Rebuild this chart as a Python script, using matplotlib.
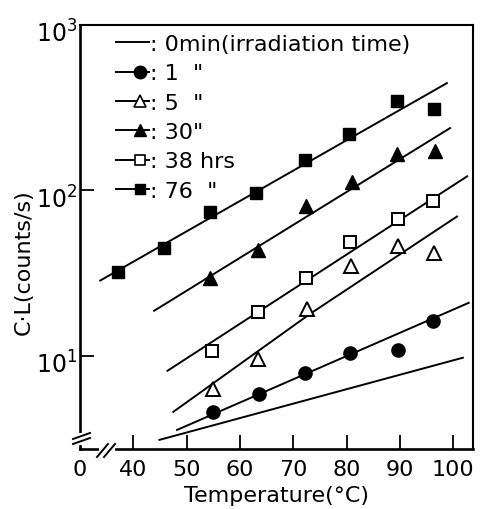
import numpy as np
import matplotlib
matplotlib.use("Agg")
import matplotlib.pyplot as plt
import matplotlib.transforms as mtransforms
from matplotlib.lines import Line2D
from matplotlib.legend_handler import HandlerLine2D

# ---------------- data ----------------
# measured points: temperature (deg C) and chemiluminescence (counts/s)
t_1min = [55.0, 63.6, 72.2, 80.6, 89.6, 96.2]
c_1min = [4.58, 5.89, 7.89, 10.4, 10.9, 16.3]

t_5min = [55.0, 63.4, 72.6, 80.8, 89.6, 96.4]
c_5min = [6.3, 9.6, 19.3, 35.1, 46.4, 42.1]

t_30min = [54.4, 63.4, 72.4, 81.0, 89.4, 96.5]
c_30min = [29.7, 43.3, 80.0, 113.0, 167.0, 172.0]

t_38h = [54.8, 63.4, 72.4, 80.6, 89.6, 96.2]
c_38h = [10.7, 18.5, 29.7, 48.4, 66.7, 85.8]

t_76h = [37.2, 45.8, 54.4, 63.0, 72.2, 80.5, 89.4, 96.4]
c_76h = [32.3, 45.1, 73.6, 95.9, 152.0, 218.0, 346.0, 310.0]

# drawn fit lines (temperature, counts/s)
fit_t_0min = [44.9, 101.8]
fit_c_0min = [3.10, 9.73]
fit_t_1min = [48.2, 102.9]
fit_c_1min = [3.56, 20.9]
fit_t_5min = [47.5, 73.2, 100.7]
fit_c_5min = [4.58, 17.97, 69.5]
fit_t_30min = [43.9, 99.4]
fit_c_30min = [18.7, 238.0]
fit_t_38h = [46.4, 102.6]
fit_c_38h = [8.11, 121.6]
fit_t_76h = [33.8, 98.8]
fit_c_76h = [28.5, 445.0]

legend_labels = [": 0min(irradiation time)", ": 1  \"", ": 5  \"",
                 ": 30\"", ": 38 hrs", ": 76  \""]
x_ticks = [30, 40, 50, 60, 70, 80, 90, 100]
x_tick_labels = ["0", "40", "50", "60", "70", "80", "90", "100"]
y_ticks = [10, 100, 1000]
y_tick_labels = [r"$\mathregular{10^{1}}$", r"$\mathregular{10^{2}}$", r"$\mathregular{10^{3}}$"]

# ---------------- style ----------------
plt.rcParams['font.family'] = ['DejaVu Sans']
plt.rcParams['mathtext.fontset'] = 'dejavusans'

fig = plt.figure(figsize=(4.9, 5.1), dpi=100)
W, H = 490, 510
L, R, T, B = 80, 473, 26, 450
ax = fig.add_axes([L / W, 1 - B / H, (R - L) / W, (B - T) / H])

lw = 1.4
k = 'black'
ax.plot(fit_t_0min, fit_c_0min, color=k, lw=lw)
ax.plot(fit_t_1min, fit_c_1min, color=k, lw=lw)
ax.plot(fit_t_5min, fit_c_5min, color=k, lw=lw)
ax.plot(fit_t_30min, fit_c_30min, color=k, lw=lw)
ax.plot(fit_t_38h, fit_c_38h, color=k, lw=lw)
ax.plot(fit_t_76h, fit_c_76h, color=k, lw=lw)

ax.plot(t_1min, c_1min, 'o', ms=9.5, color=k, zorder=3)
ax.plot(t_5min, c_5min, '^', ms=9.5, mfc='white', mec=k, mew=1.4, zorder=3)
ax.plot(t_30min, c_30min, '^', ms=9.5, color=k, zorder=3)
ax.plot(t_38h, c_38h, 's', ms=8.5, mfc='white', mec=k, mew=1.4, zorder=3)
ax.plot(t_76h, c_76h, 's', ms=8.5, color=k, zorder=3)

ax.set_yscale('log')
ax.set_xlim(30, 103.7)
ax.set_ylim(2.73, 1000)
ax.set_xticks(x_ticks)
ax.set_xticklabels(x_tick_labels, fontsize=16)
ax.set_yticks(y_ticks)
ax.set_yticklabels(y_tick_labels, fontsize=17)
ax.yaxis.set_minor_locator(matplotlib.ticker.NullLocator())
ax.tick_params(axis='x', direction='in', length=10, width=1.3, pad=7)
ax.tick_params(axis='y', direction='in', length=10, width=1.3, pad=2)
ax.xaxis.get_major_ticks()[0].tick1line.set_visible(False)
ax.yaxis.get_major_ticks()[2].tick1line.set_visible(False)
shift = mtransforms.ScaledTranslation(0, -6 / 100, fig.dpi_scale_trans)
for lab in ax.get_yticklabels():
    lab.set_transform(lab.get_transform() + shift)
for sp in ['left', 'bottom']:
    ax.spines[sp].set_linewidth(1.9)
for sp in ['top', 'right']:
    ax.spines[sp].set_linewidth(1.5)

ax.set_xlabel("Temperature(°C)", fontsize=16)
ax.xaxis.set_label_coords((277 - L) / (R - L), (B - 486) / (B - T))
ax.xaxis.label.set_va('top')
ax.set_ylabel("C·L(counts/s)", fontsize=16)
ax.yaxis.set_label_coords((24 - L) / (R - L), (B - 262) / (B - T))
ax.yaxis.label.set_va('center')


# axis break marks (layout, pixel positions converted to axes fraction)
def af(px, py):
    return (px - L) / (R - L), (B - py) / (B - T)


def seg(p0, p1, **kw):
    (x0, y0), (x1, y1) = af(*p0), af(*p1)
    ax.plot([x0, x1], [y0, y1], transform=ax.transAxes, clip_on=False, **kw)


seg((80, 436), (80, 444), color='white', lw=3, zorder=5)
seg((73, 440), (90, 434), color=k, lw=1.4, zorder=6)
seg((73, 445), (90, 439), color=k, lw=1.4, zorder=6)
seg((101, 450), (113, 450), color='white', lw=3, zorder=5)
seg((97, 458), (108, 445), color=k, lw=1.4, zorder=6)
seg((104, 458), (115, 445), color=k, lw=1.4, zorder=6)


# legend with marker near the right end of the line sample
class RightMarker(HandlerLine2D):
    def create_artists(self, legend, orig_handle, xdescent, ydescent,
                       width, height, fontsize, trans):
        y = (height - ydescent) / 2.0
        x0, x1 = -xdescent, -xdescent + width
        line = Line2D([x0, x1], [y, y])
        self.update_prop(line, orig_handle, legend)
        line.set_marker('None')
        mk = Line2D([x0 + 0.72 * width], [y])
        self.update_prop(mk, orig_handle, legend)
        mk.set_linestyle('None')
        line.set_transform(trans)
        mk.set_transform(trans)
        return [line, mk]


handles = [
    Line2D([], [], color=k, lw=1.4),
    Line2D([], [], color=k, lw=1.4, marker='o', ms=9),
    Line2D([], [], color=k, lw=1.4, marker='^', ms=8, mfc='white', mew=1.2),
    Line2D([], [], color=k, lw=1.4, marker='^', ms=8),
    Line2D([], [], color=k, lw=1.4, marker='s', ms=7, mfc='white', mew=1.2),
    Line2D([], [], color=k, lw=1.4, marker='s', ms=7),
]
lx, ly = af(116, 35)
leg = ax.legend(handles, legend_labels, loc='upper left', bbox_to_anchor=(lx, ly),
                frameon=False, fontsize=16, handlelength=1.5, handletextpad=0.05,
                labelspacing=0.42, borderpad=0, borderaxespad=0,
                handler_map={Line2D: RightMarker()})

fig.savefig("out.png", dpi=100)
